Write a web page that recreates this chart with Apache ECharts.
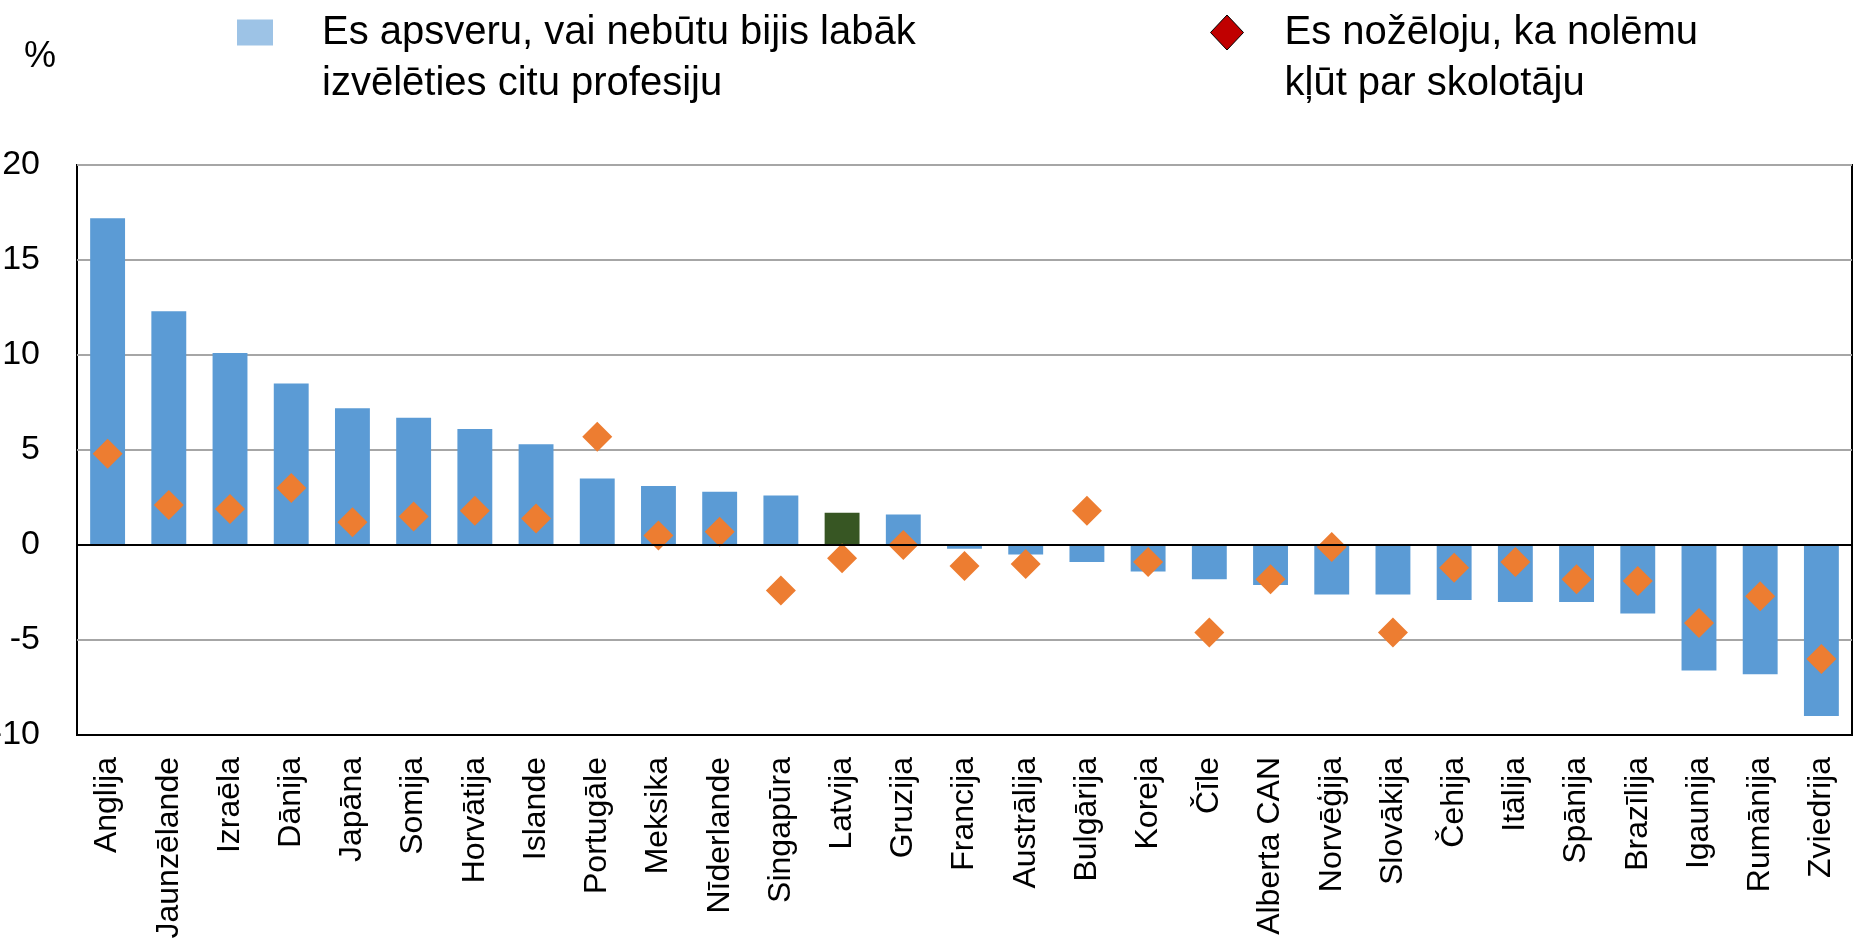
<!DOCTYPE html>
<html>
<head>
<meta charset="utf-8">
<script src="https://cdn.jsdelivr.net/npm/echarts@6/dist/echarts.min.js"></script>
<style>
  html, body { margin: 0; padding: 0; background: #fff; }
  #chart { width: 1856px; height: 939px; }
</style>
</head>
<body>
<div id="chart"></div>
<script>
// valstis, sakārtotas pēc stabiņa vērtības
const categories = ['Anglija', 'Jaunzēlande', 'Izraēla', 'Dānija', 'Japāna', 'Somija', 'Horvātija', 'Islande',
  'Portugāle', 'Meksika', 'Nīderlande', 'Singapūra', 'Latvija', 'Gruzija', 'Francija', 'Austrālija',
  'Bulgārija', 'Koreja', 'Čīle', 'Alberta CAN', 'Norvēģija', 'Slovākija', 'Čehija', 'Itālija',
  'Spānija', 'Brazīlija', 'Igaunija', 'Rumānija', 'Zviedrija'];

const otherProfession = [17.2, 12.3, 10.1, 8.5, 7.2, 6.7, 6.1, 5.3, 3.5, 3.1, 2.8, 2.6, 1.7, 1.6, -0.2,
  -0.5, -0.9, -1.4, -1.8, -2.1, -2.6, -2.6, -2.9, -3.0, -3.0, -3.6, -6.6, -6.8, -9.0];

const regretTeacher = [4.8, 2.1, 1.9, 3.0, 1.2, 1.5, 1.8, 1.4, 5.7, 0.5, 0.7, -2.4, -0.7, 0.0, -1.1,
  -1.0, 1.8, -0.9, -4.6, -1.8, -0.1, -4.6, -1.2, -0.9, -1.8, -1.9, -4.1, -2.7, -6.0];

const yTicks = [-10, -5, 0, 5, 10, 15, 20];
const highlighted = 'Latvija';

const barName = 'Es apsveru, vai nebūtu bijis labāk\nizvēlēties citu profesiju';
const dotName = 'Es nožēloju, ka nolēmu\nkļūt par skolotāju';

const font = 'Liberation Sans';
const chart = echarts.init(document.getElementById('chart'));

const barData = otherProfession.map((v, i) => (
  categories[i] === highlighted ? { value: v, itemStyle: { color: '#375623' } } : v
));

// tukša rinda augšā, lai ikona būtu pretī pirmajai rindai
const legendText = (padLeft) => ({
  fontFamily: font,
  fontSize: 40,
  lineHeight: 51,
  color: '#000',
  padding: [0, 0, 0, padLeft]
});

chart.setOption({
  animation: false,
  backgroundColor: '#fff',
  legend: [
    {
      left: 237,
      top: -44,
      padding: 0,
      itemWidth: 36,
      itemHeight: 26,
      selectedMode: false,
      formatter: name => '\n' + name,
      data: [{ name: barName, icon: 'rect', itemStyle: { color: '#9DC3E6' } }],
      textStyle: legendText(44)
    },
    {
      left: 1210,
      top: -44,
      padding: 0,
      itemWidth: 33,
      itemHeight: 35,
      selectedMode: false,
      formatter: name => '\n' + name,
      data: [{ name: dotName, icon: 'diamond', itemStyle: { color: '#C00000', borderColor: '#000', borderWidth: 1 } }],
      textStyle: legendText(36)
    }
  ],
  grid: {
    left: 77,
    right: 4,
    top: 165,
    bottom: 204,
    outerBoundsMode: 'none',
    containLabel: false,
    show: true,
    borderColor: '#000',
    borderWidth: 2,
    backgroundColor: 'transparent'
  },
  xAxis: {
    type: 'category',
    data: categories,
    axisLine: { onZero: false, lineStyle: { color: '#000', width: 2 } },
    axisTick: { show: false },
    axisLabel: {
      rotate: 90,
      interval: 0,
      margin: 22,
      fontFamily: font,
      fontSize: 32,
      color: '#000'
    }
  },
  yAxis: {
    type: 'value',
    min: yTicks[0],
    max: yTicks[yTicks.length - 1],
    interval: 5,
    name: '%',
    nameLocation: 'end',
    nameGap: 90,
    nameTextStyle: { fontFamily: font, fontSize: 36, color: '#000', align: 'right', padding: [0, 21, 0, 0] },
    axisLine: { show: false },
    axisTick: { show: false },
    axisLabel: { margin: 37, fontFamily: font, fontSize: 34, color: '#000' },
    splitLine: { lineStyle: { color: '#A6A6A6', width: 2 } }
  },
  series: [
    {
      name: barName,
      type: 'bar',
      data: barData,
      barCategoryGap: '43%',
      itemStyle: { color: '#5B9BD5' },
      z: 2,
      markLine: {
        silent: true,
        symbol: 'none',
        label: { show: false },
        lineStyle: { color: '#000', width: 2, type: 'solid' },
        data: [{ yAxis: 0 }]
      }
    },
    {
      name: dotName,
      type: 'scatter',
      data: regretTeacher,
      symbol: 'diamond',
      symbolSize: [30, 30],
      itemStyle: { color: '#ED7D31', opacity: 1 },
      z: 4
    }
  ]
});
</script>
</body>
</html>
